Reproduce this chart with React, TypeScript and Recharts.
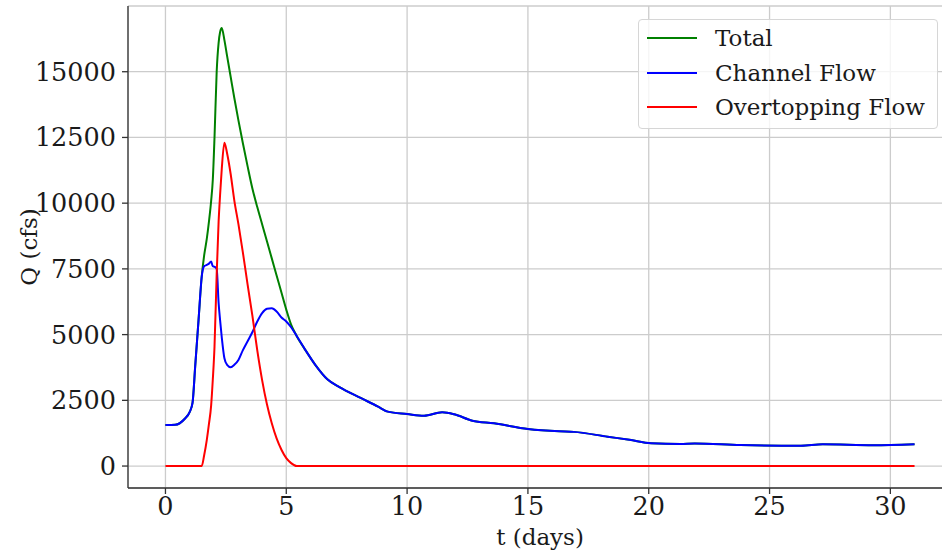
import { CartesianGrid, Line, LineChart, XAxis, YAxis } from "recharts";

// time in days, shared by every series
const days = [
  0, 0.4, 0.8, 1.0, 1.12, 1.23, 1.37, 1.5, 1.6, 1.71, 1.8, 1.89, 1.96, 2.03, 2.12, 2.2, 2.26,
  2.33, 2.44, 2.55, 2.7, 2.85, 3.02, 3.2, 3.4, 3.6, 3.8, 4.0, 4.2, 4.4, 4.6, 4.8, 5.0, 5.2,
  5.43, 5.8, 6.2, 6.7, 7.2, 8.1, 8.8, 9.2, 10.0, 10.7, 11.45, 11.95, 12.7, 13.6, 15.0, 16.3,
  16.9, 18.3, 19.2, 20.1, 21.3, 21.9, 23.8, 26.3, 27.2, 29.3, 31,
];

const channelFlow = [
  1560, 1570, 1800, 2050, 2400, 3780, 5560, 7200, 7600, 7650, 7700, 7780, 7600, 7580, 7500, 6200,
  5560, 4900, 4100, 3850, 3760, 3850, 4035, 4400, 4750, 5100, 5500, 5820, 5980, 6000, 5880, 5650,
  5500, 5280, 4950, 4400, 3850, 3300, 3000, 2580, 2260, 2070, 1980, 1915, 2045, 1970, 1725, 1625,
  1410, 1320, 1300, 1115, 1000, 870, 840, 860, 800, 775, 826, 790, 830,
];

const overtoppingFlow = [
  0, 0, 0, 0, 0, 0, 0, 0, 400, 990, 1600, 2300, 3300, 4540, 7300, 9300, 10300, 11300, 12300,
  11900, 11100, 10100, 9200, 8150, 6900, 5700, 4400, 3270, 2350, 1625, 1050, 620, 300, 110, 0,
  0, 0, 0, 0, 0, 0, 0, 0, 0, 0, 0, 0, 0, 0, 0, 0, 0, 0, 0, 0, 0, 0, 0, 0, 0, 0,
];

const totalFlow = [
  1560, 1570, 1800, 2050, 2400, 3780, 5560, 7200, 8000, 8640, 9300, 10080, 10900, 12500, 15000,
  16100, 16500, 16660, 16200, 15600, 14800, 14000, 13150, 12300, 11400, 10550, 9850, 9200, 8550,
  7900, 7250, 6600, 5950, 5380, 4950, 4400, 3850, 3300, 3000, 2580, 2260, 2070, 1980, 1915, 2045,
  1970, 1725, 1625, 1410, 1320, 1300, 1115, 1000, 870, 840, 860, 800, 775, 826, 790, 830,
];

const xTicks = [0, 5, 10, 15, 20, 25, 30];
const yTicks = [0, 2500, 5000, 7500, 10000, 12500, 15000];

const seriesInfo = [
  { key: "total", name: "Total", color: "#008000" },
  { key: "channel", name: "Channel Flow", color: "#0000ff" },
  { key: "over", name: "Overtopping Flow", color: "#ff0000" },
];

const data = days.map((t, i) => ({
  t,
  total: totalFlow[i],
  channel: channelFlow[i],
  over: overtoppingFlow[i],
}));

const FONT = "'DejaVu Serif', serif";
const tickStyle = { fontSize: 25.5, fill: "#1a1a1a", fontFamily: FONT };

// matplotlib-style legend box, laid over the top-right of the plot
function FlowLegend() {
  return (
    <div
      style={{
        position: "absolute",
        left: 638,
        top: 19,
        width: 282,
        border: "1px solid #d6d6d6",
        borderRadius: 4,
        background: "rgba(255,255,255,0.8)",
        padding: "1px 8px 3px 8px",
        fontFamily: FONT,
        fontSize: 23,
        color: "#1a1a1a",
      }}
    >
      {seriesInfo.map((s) => (
        <div key={s.key} style={{ display: "flex", alignItems: "center", height: 34.5 }}>
          <div style={{ width: 50, height: 2, background: s.color, marginRight: 18 }} />
          <span>{s.name}</span>
        </div>
      ))}
    </div>
  );
}

export default function App() {
  return (
    <div style={{ position: "absolute", left: 0, top: 0, width: 942, height: 554, overflow: "hidden", background: "#fff" }}>
      <LineChart width={952} height={554} data={data} margin={{ top: 6, right: 0, left: 0, bottom: 0 }}>
        <CartesianGrid stroke="#cccccc" strokeWidth={1.3} />
        <XAxis
          dataKey="t"
          type="number"
          domain={[-1.55, 32.55]}
          ticks={xTicks}
          height={66}
          tick={tickStyle}
          tickSize={6}
          tickMargin={3}
          stroke="#333"
          strokeWidth={1.3}
          label={{ value: "t (days)", position: "insideBottom", offset: 9, style: { fontSize: 23, fill: "#1a1a1a", fontFamily: FONT } }}
        />
        <XAxis xAxisId="top" orientation="top" dataKey="t" type="number" domain={[-1.55, 32.55]} height={0} tick={false} tickLine={false} stroke="#333" strokeWidth={1.3} />
        <YAxis
          type="number"
          domain={[-835, 17500]}
          ticks={yTicks}
          width={128}
          tick={tickStyle}
          tickSize={6}
          tickMargin={6}
          stroke="#333"
          strokeWidth={1.3}
          label={{ value: "Q (cfs)", angle: -90, position: "insideLeft", offset: 29, textAnchor: "middle", style: { fontSize: 23, fill: "#1a1a1a", fontFamily: FONT } }}
        />
        {seriesInfo.map((s) => (
          <Line
            key={s.key}
            dataKey={s.key}
            name={s.name}
            type="monotone"
            stroke={s.color}
            strokeWidth={2}
            dot={false}
            isAnimationActive={false}
          />
        ))}
      </LineChart>
      <FlowLegend />
    </div>
  );
}
